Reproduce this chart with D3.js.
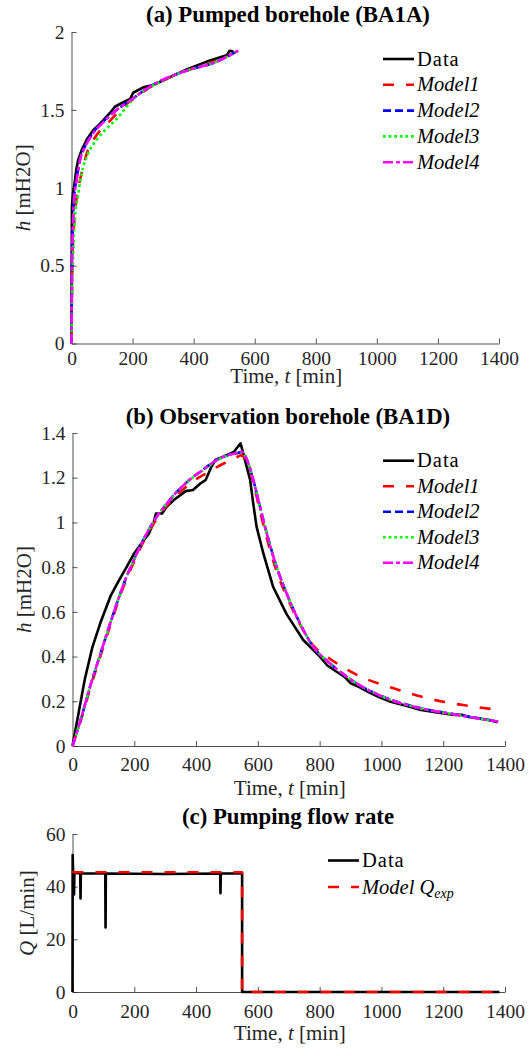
<!DOCTYPE html>
<html>
<head>
<meta charset="utf-8">
<script src="https://cdn.jsdelivr.net/npm/d3@7"></script>
<style>
  body { margin: 0; background: #fff; }
  svg { display: block; }
  svg text { font-family: "Liberation Serif", "Times New Roman", serif; }
</style>
</head>
<body>
<div id="chart"></div>
<script>
// ---- Data ----
const xTicks = [0, 200, 400, 600, 800, 1000, 1200, 1400];
const modelNames = ["Model1", "Model2", "Model3", "Model4"];

// (a) pumped borehole BA1A, [t (min), h (mH2O)]
const aData = [[0,0],[0.5,0.5],[1.5,0.88],[5,0.97],[8,1.0],[11.5,1.05],[16,1.12],[22,1.18],[33,1.24],[50,1.31],
  [71,1.37],[93,1.41],[126,1.48],[142,1.52],[170,1.55],[192,1.57],[202,1.61],[235,1.645],[268,1.66],
  [312,1.70],[377,1.76],[443,1.81],[508,1.85],[518,1.88],[530,1.875]];
const aModel1 = [[0,0],[2,0.42],[4,0.6],[7,0.72],[11.5,0.84],[18,0.95],[28,1.05],[50,1.22],[83,1.34],[126,1.43],
  [175,1.53],[210,1.58],[257,1.645],[366,1.745],[476,1.815],[546,1.88]];
const aModel2 = [[0,0],[2,0.55],[4,0.72],[8,0.93],[17,1.06],[28,1.18],[44,1.265],[71,1.355],[104,1.425],[148,1.50],
  [192,1.56],[257,1.65],[366,1.745],[476,1.81],[546,1.88]];
const aModel3 = [[0,0],[2,0.33],[4,0.49],[7,0.66],[11.5,0.81],[22,0.96],[33,1.09],[50,1.20],[83,1.31],[115,1.38],
  [142,1.43],[181,1.52],[202,1.57],[257,1.645],[366,1.745],[476,1.81],[546,1.88]];
const aModel4 = [[0,0],[2,0.54],[4,0.71],[8,0.92],[17,1.05],[28,1.18],[44,1.26],[71,1.35],[104,1.42],[148,1.50],
  [192,1.56],[257,1.65],[366,1.745],[476,1.81],[546,1.88]];

// (b) observation borehole BA1D
const bData = [[0,0],[20,0.15],[40,0.3],[64,0.44],[90,0.55],[123,0.67],[150,0.74],[175,0.80],[199,0.86],[225,0.91],
  [247,0.95],[263,1.0],[270,1.04],[290,1.04],[305,1.07],[328,1.10],[366,1.14],[390,1.145],[410,1.17],[431,1.19],
  [450,1.25],[463,1.28],[490,1.295],[522,1.315],[544,1.354],[558,1.28],[575,1.19],[585,1.085],[596,0.98],
  [618,0.86],[650,0.71],[693,0.59],[747,0.474],[801,0.40],[825,0.36],[855,0.332],[880,0.31],[901,0.28],
  [930,0.262],[955,0.243],[990,0.22],[1030,0.198],[1080,0.18],[1128,0.161],[1180,0.15],[1236,0.139],
  [1260,0.14],[1290,0.128],[1311,0.124],[1350,0.115],[1376,0.106]];
const bModel1 = [[0,0],[26,0.11],[60,0.27],[90,0.40],[120,0.53],[144,0.63],[170,0.73],[198,0.82],[225,0.90],
  [252,0.97],[280,1.03],[306,1.075],[333,1.115],[360,1.15],[387,1.18],[414,1.205],[441,1.225],[470,1.25],
  [500,1.27],[530,1.29],[545,1.30],[569,1.26],[585,1.18],[607,1.05],[629,0.93],[661,0.78],[693,0.67],
  [736,0.545],[779,0.45],[801,0.42],[833,0.39],[888,0.342],[950,0.30],[1040,0.258],[1125,0.222],[1200,0.198],
  [1265,0.183],[1330,0.17],[1384,0.161]];
const bModel2 = [[0,0],[26,0.115],[60,0.28],[90,0.41],[120,0.54],[144,0.64],[170,0.74],[198,0.83],[225,0.91],
  [252,0.98],[280,1.04],[306,1.085],[333,1.13],[360,1.167],[387,1.20],[414,1.227],[441,1.255],[468,1.28],
  [500,1.30],[532,1.31],[548,1.315],[569,1.265],[585,1.19],[607,1.07],[629,0.95],[661,0.80],[693,0.683],
  [736,0.55],[779,0.445],[833,0.37],[888,0.31],[920,0.28],[1017,0.214],[1125,0.17],[1233,0.143],[1378,0.11]];
const bModel3 = [[0,0],[26,0.115],[60,0.28],[90,0.41],[120,0.54],[144,0.64],[170,0.74],[198,0.83],[225,0.91],
  [252,0.98],[280,1.04],[306,1.085],[333,1.13],[360,1.165],[387,1.198],[414,1.225],[441,1.252],[468,1.278],
  [500,1.298],[532,1.31],[548,1.315],[569,1.265],[585,1.19],[607,1.07],[629,0.95],[661,0.80],[693,0.683],
  [736,0.55],[779,0.445],[833,0.37],[888,0.31],[920,0.28],[1017,0.213],[1125,0.169],[1233,0.142],[1378,0.109]];
const bModel4 = [[0,0],[26,0.116],[60,0.28],[90,0.41],[120,0.54],[144,0.64],[170,0.74],[198,0.83],[225,0.91],
  [252,0.98],[280,1.04],[306,1.085],[333,1.13],[360,1.167],[387,1.20],[414,1.227],[441,1.255],[468,1.28],
  [500,1.30],[532,1.31],[548,1.316],[569,1.264],[585,1.19],[607,1.07],[629,0.95],[661,0.80],[693,0.683],
  [736,0.549],[779,0.444],[833,0.37],[888,0.31],[920,0.28],[1017,0.213],[1125,0.169],[1233,0.142],[1378,0.109]];

// (c) pumping flow rate, [t (min), Q (L/min)]
const cData = [[0,0],[0.5,52],[2,45.5],[4,45],[5,37],[6,45.3],[25,45],[26,35.5],[27,45],[106,45],[107,24.5],
  [108,45],[300,44.8],[478,45],[479,37.5],[480,45],[549,45],[549,0],[1382,0]];
const cModel = [[0,45.5],[549,45.5],[549,0],[1382,0]];

// ---- Styles ----
const axisColor = "#262626";
const tickFont = "19.5px";
const labelFont = "21px";
const legendFont = "20.5px";
const styles = {
  Data:   { color: "#000000", dash: null,        width: 2.6 },
  Model1: { color: "#ff0000", dash: "11,12",     width: 2.6 },
  Model2: { color: "#0000ff", dash: "8,4",       width: 2.6 },
  Model3: { color: "#00ff00", dash: "2.8,2.8",   width: 2.6 },
  Model4: { color: "#ff00ff", dash: "10,3,4,3",  width: 2.6 }
};

const svg = d3.select("#chart").append("svg")
  .attr("width", 528)
  .attr("height", 1048);

function drawPanel(p) {
  const x = d3.scaleLinear().domain([0, 1400]).range([p.left, p.right]);
  const y = d3.scaleLinear().domain(p.yDomain).range([p.bottom, p.top]);
  const g = svg.append("g");

  // axes (ticks point inward, no box)
  g.append("g")
    .attr("transform", `translate(0,${p.bottom})`)
    .call(d3.axisBottom(x).tickValues(xTicks).tickFormat(d3.format("d"))
      .tickSize(-5).tickSizeOuter(0).tickPadding(p.xTickPad));
  g.append("g")
    .attr("transform", `translate(${p.left},0)`)
    .call(d3.axisLeft(y).tickValues(p.yTicks).tickFormat(d3.format(""))
      .tickSize(-5).tickSizeOuter(0).tickPadding(7));
  g.selectAll("g").attr("font-family", null).attr("font-size", null);
  g.selectAll(".domain, .tick line").attr("stroke", axisColor).attr("stroke-width", 0.8);
  g.selectAll(".tick text").attr("fill", axisColor).style("font-size", tickFont);

  // series
  const line = d3.line().x(d => x(d[0])).y(d => y(d[1]));
  p.series.forEach(s => {
    const st = styles[s.style];
    g.append("path")
      .datum(s.values)
      .attr("d", line.curve(s.smooth ? d3.curveMonotoneX : d3.curveLinear))
      .attr("fill", "none")
      .attr("stroke", st.color)
      .attr("stroke-width", st.width)
      .attr("stroke-dasharray", st.dash)
      .attr("stroke-linejoin", "round");
  });

  // title
  g.append("text")
    .attr("x", 288)
    .attr("y", p.titleY)
    .attr("text-anchor", "middle")
    .style("font-size", "22.8px")
    .style("font-weight", "bold")
    .text(p.title);

  // x label
  const xl = g.append("text")
    .attr("x", (p.left + p.right) / 2 + 1)
    .attr("y", p.bottom + p.xLabelOff)
    .attr("text-anchor", "middle")
    .attr("fill", axisColor)
    .style("font-size", labelFont);
  xl.append("tspan").text("Time, ");
  xl.append("tspan").style("font-style", "italic").text("t");
  xl.append("tspan").text(" [min]");

  // y label
  const yl = g.append("text")
    .attr("transform", `translate(${p.yLabelX},${(p.top + p.bottom) / 2}) rotate(-90)`)
    .attr("text-anchor", "middle")
    .attr("fill", axisColor)
    .style("font-size", labelFont);
  yl.append("tspan").style("font-style", "italic").text(p.yVar);
  yl.append("tspan").text(" " + p.yUnit);

  // legend
  const lg = g.append("g");
  p.legend.forEach((item, i) => {
    const ly = p.legendY + i * p.legendStep;
    const st = styles[item.style];
    lg.append("line")
      .attr("x1", p.legendX).attr("x2", p.legendX + 31)
      .attr("y1", ly).attr("y2", ly)
      .attr("stroke", st.color)
      .attr("stroke-width", st.width)
      .attr("stroke-dasharray", st.dash);
    const t = lg.append("text")
      .attr("x", p.legendX + 34)
      .attr("y", ly + 6.5)
      .style("font-size", legendFont);
    if (item.style === "Data") {
      t.style("letter-spacing", "1px").text("Data");
    } else if (item.sub) {
      t.append("tspan").style("font-style", "italic").text(item.label);
      t.append("tspan").style("font-style", "italic").style("font-size", "14px")
        .attr("dy", 4).text(item.sub);
    } else {
      t.style("font-style", "italic").text(item.label);
    }
  });
}

const modelLegend = [{ style: "Data" }].concat(modelNames.map(m => ({ style: m, label: m })));

drawPanel({
  title: "(a) Pumped borehole (BA1A)", titleY: 22,
  left: 71.5, right: 499, top: 32, bottom: 343.5,
  yDomain: [0, 2], yTicks: [0, 0.5, 1, 1.5, 2],
  xTickPad: 7.5, xLabelOff: 39.5,
  yVar: "h", yUnit: "[mH2O]", yLabelX: 30,
  series: [
    { style: "Data", values: aData },
    { style: "Model1", values: aModel1, smooth: true },
    { style: "Model2", values: aModel2, smooth: true },
    { style: "Model3", values: aModel3, smooth: true },
    { style: "Model4", values: aModel4, smooth: true }
  ],
  legend: modelLegend, legendX: 383, legendY: 59, legendStep: 25.8
});

drawPanel({
  title: "(b) Observation borehole (BA1D)", titleY: 423.5,
  left: 72.5, right: 505, top: 433, bottom: 746,
  yDomain: [0, 1.4], yTicks: [0, 0.2, 0.4, 0.6, 0.8, 1, 1.2, 1.4],
  xTickPad: 11.5, xLabelOff: 49,
  yVar: "h", yUnit: "[mH2O]", yLabelX: 31,
  series: [
    { style: "Data", values: bData },
    { style: "Model1", values: bModel1, smooth: true },
    { style: "Model2", values: bModel2, smooth: true },
    { style: "Model3", values: bModel3, smooth: true },
    { style: "Model4", values: bModel4, smooth: true }
  ],
  legend: modelLegend, legendX: 383, legendY: 460.7, legendStep: 25.5
});

drawPanel({
  title: "(c) Pumping flow rate", titleY: 824,
  left: 72.5, right: 505, top: 834, bottom: 992,
  yDomain: [0, 60], yTicks: [0, 20, 40, 60],
  xTickPad: 12, xLabelOff: 48,
  yVar: "Q", yUnit: "[L/min]", yLabelX: 34,
  series: [
    { style: "Data", values: cData },
    { style: "Model1", values: cModel }
  ],
  legend: [{ style: "Data" }, { style: "Model1", label: "Model Q", sub: "exp" }],
  legendX: 328, legendY: 860.5, legendStep: 26.5
});
</script>
</body>
</html>
